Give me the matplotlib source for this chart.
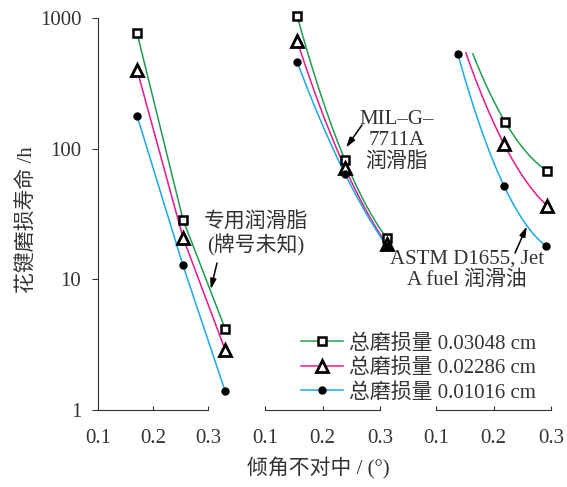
import numpy as np
import matplotlib
matplotlib.use('Agg')
import matplotlib.pyplot as plt
from matplotlib.lines import Line2D

plt.rcParams['font.family'] = ['Liberation Serif', 'Noto Sans CJK SC', 'DejaVu Sans']
plt.rcParams['axes.unicode_minus'] = False

# 三组润滑剂的数据（倾角不对中 / °，寿命 / h）
labels = ['总磨损量 0.03048 cm', '总磨损量 0.02286 cm', '总磨损量 0.01016 cm']
colors = ['#1f9e4f', '#e8198b', '#1aa8e8']

# 专用润滑脂（牌号未知）
p1_x = [[0.171, 0.2545, 0.331], [0.171, 0.2545, 0.331], [0.171, 0.2545, 0.331]]
p1_y = [[767, 28.7, 4.2], [401, 20.9, 2.9], [179, 12.8, 1.4]]

# MIL-G-7711A 润滑脂
p2_x = [[0.156, 0.239, 0.312], [0.156, 0.239, 0.312], [0.156, 0.239, 0.312]]
p2_y = [[1035, 82, 20.6], [667, 71.6, 18.5], [461, 64.4, 17.9]]

# ASTM D1655, Jet A fuel 润滑油（前两条线的第一个点没有标记）
p3_x = [[0.164, 0.220, 0.293], [0.152, 0.218, 0.293], [0.138, 0.218, 0.292]]
p3_y = [[531, 161, 67.9], [541, 109, 36.7], [531, 52.2, 17.9]]
p3_first_marked = [False, False, True]

W, H = 567, 487
fig = plt.figure(figsize=(W / 100, H / 100), dpi=100)


def make_ax(left_px, xmax, px_per_unit):
    width = (xmax - 0.1) * px_per_unit
    ax = fig.add_axes([left_px / W, (H - 410) / H, width / W, 392 / H])
    ax.set_xlim(0.1, xmax)
    ax.set_yscale('log')
    ax.set_ylim(1, 1000)
    ax.patch.set_alpha(0)
    for s in ['top', 'right']:
        ax.spines[s].set_visible(False)
    ax.spines['bottom'].set_bounds(0.1, 0.3)
    ax.spines['bottom'].set_color('#333333')
    ax.spines['left'].set_color('#333333')
    ax.set_xticks([0.1, 0.2, 0.3])
    ax.set_xticklabels(['0.1', '0.2', '0.3'])
    ax.tick_params(axis='x', direction='in', length=3, pad=14, labelsize=15,
                   color='#333333', labelcolor='#333333')
    ax.yaxis.set_minor_locator(matplotlib.ticker.NullLocator())
    return ax


ax1 = make_ax(98, 0.345, 550)
ax2 = make_ax(265, 0.33, 575)
ax3 = make_ax(436, 0.31, 575)

ax1.set_yticks([1, 10, 100, 1000])
ax1.set_yticklabels(['1', '10', '100', '1000'])
ax1.tick_params(axis='y', direction='out', length=4, pad=8, labelsize=15,
                color='#333333', labelcolor='#333333')
for ax in [ax2, ax3]:
    ax.spines['left'].set_visible(False)
    ax.tick_params(axis='y', left=False, labelleft=False)

mk_style = [dict(marker='s', ms=6, mfc='white', mec='black', mew=1.8),
            dict(marker='^', ms=9, mfc='white', mec='black', mew=2.0),
            dict(marker='o', ms=5, mfc='black', mec='black', mew=1)]


def smooth(x, y):
    # 对数坐标下的光滑连线
    c = np.polyfit(x, np.log10(y), 2)
    xs = np.linspace(x[0], x[-1], 60)
    return xs, 10 ** np.polyval(c, xs)


for i in range(3):
    ax1.plot(p1_x[i], p1_y[i], color=colors[i], lw=1.1, zorder=2)
    ax1.plot(p1_x[i], p1_y[i], ls='none', zorder=3, clip_on=False, **mk_style[i])

    xs, ys = smooth(p2_x[i], p2_y[i])
    ax2.plot(xs, ys, color=colors[i], lw=1.1, zorder=2)
    ax2.plot(p2_x[i], p2_y[i], ls='none', zorder=3, clip_on=False, **mk_style[i])

    xs, ys = smooth(p3_x[i], p3_y[i])
    ax3.plot(xs, ys, color=colors[i], lw=1.1, zorder=2)
    k = 0 if p3_first_marked[i] else 1
    ax3.plot(p3_x[i][k:], p3_y[i][k:], ls='none', zorder=3, clip_on=False, **mk_style[i])

# 注释
txt_kw = dict(ha='center', va='center', fontsize=15, color='#333333', linespacing=1.15)
fig.text(256 / W, 1 - 234 / H, '专用润滑脂\n(牌号未知)', **txt_kw)
fig.text(397 / W, 1 - 141 / H, 'MIL–G–\n7711A\n润滑脂', **txt_kw)
fig.text(467 / W, 1 - 270 / H, 'ASTM D1655, Jet\nA fuel 润滑油', **txt_kw)

arrow = dict(arrowstyle='-|>,head_length=0.6,head_width=0.18', color='black', lw=1.1,
             shrinkA=0, shrinkB=0)
ax1.annotate('', xy=(0.305, 8.4), xytext=(217 / W, 1 - 263 / H),
             textcoords='figure fraction', arrowprops=arrow, annotation_clip=False)
ax2.annotate('', xy=(0.241, 102), xytext=(362 / W, 1 - 125 / H),
             textcoords='figure fraction', arrowprops=arrow, annotation_clip=False)
ax3.annotate('', xy=(0.258, 25.4), xytext=(515 / W, 1 - 253 / H),
             textcoords='figure fraction', arrowprops=arrow, annotation_clip=False)

# 图例
handles = [Line2D([], [], color=colors[i], lw=1.1, **mk_style[i]) for i in range(3)]
fig.legend(handles, labels, loc='center left', bbox_to_anchor=(301 / W, 1 - 368 / H),
           frameon=False, fontsize=15, handlelength=2.0, handletextpad=0.3,
           labelspacing=0.22, borderpad=0, borderaxespad=0, labelcolor='#333333')

# 坐标轴标题
fig.text(318 / W, 1 - 468 / H, '倾角不对中 / (°)', ha='center', va='center',
         fontsize=15, color='#333333')
fig.text(27 / W, 1 - 220 / H, '花键磨损寿命 /h', ha='center', va='center',
         rotation=90, fontsize=15, color='#333333')

fig.savefig('out.png', dpi=100)
